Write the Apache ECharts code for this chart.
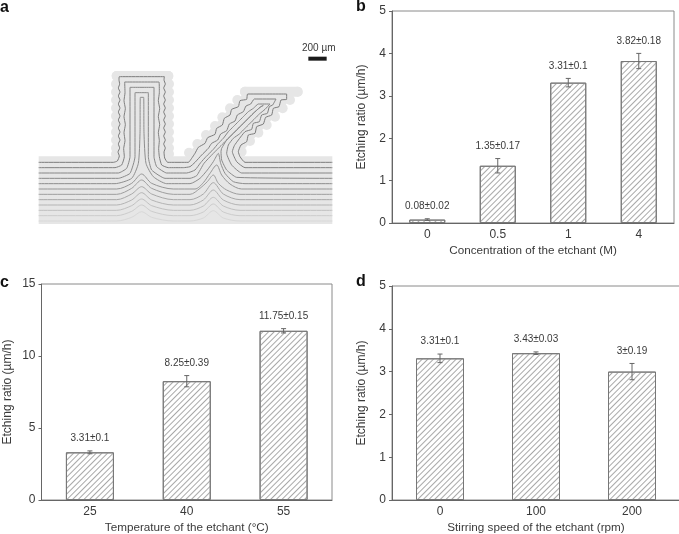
<!DOCTYPE html>
<html><head><meta charset="utf-8">
<style>html,body{margin:0;padding:0;background:#fff}#c{width:679px;height:534px}</style>
<script src="https://cdn.jsdelivr.net/npm/echarts@6/dist/echarts.min.js"></script>
</head><body><div id="c"></div>
<script>
// ---- bar panels ----
const catsB = ['0','0.5','1','4'];
const valsB = [0.08,1.35,3.31,3.82];
const errsB = [0.02,0.17,0.1,0.18];
const textB = ['0.08±0.02','1.35±0.17','3.31±0.1','3.82±0.18'];
const catsC = ['25','40','55'];
const valsC = [3.31,8.25,11.75];
const errsC = [0.1,0.39,0.15];
const textC = ['3.31±0.1','8.25±0.39','11.75±0.15'];
const catsD = ['0','100','200'];
const valsD = [3.31,3.43,3];
const errsD = [0.1,0.03,0.19];
const textD = ['3.31±0.1','3.43±0.03','3±0.19'];

// ---- schematic (panel a) in schematic units ----
const bandOutline = [[116,469],[997,469],[997,672],[116,672]];
const fingerOutline = [[350,228],[505,228],[505,475],[350,475]];
const slantOutline = [[565,460],[735,275],[893,275],[725,455],[725,475],[565,475]];
const scallops = [[350,228],[348,252],[348,276],[348,300],[348,324],[348,348],[348,372],[348,396],[348,420],[348,444],[348,462],
 [505,228],[507,252],[507,276],[507,300],[507,324],[507,348],[507,372],[507,396],[507,420],[507,444],[507,462],
 [567,458],[592,432],[618,405],[645,378],[667,352],[690,325],[712,300],[735,275],[893,275],[870,300],[848,325],[825,350],[800,375],[775,398],[750,423],[725,455]];
const line0 = [[116,487],[340,487],[352,483],[358,468],[354,456],[359,444],[355,432],[360,420],[355,408],[360,396],[355,384],[360,372],[355,360],[360,348],[355,336],[360,324],[355,312],[360,300],[355,288],[360,276],[355,264],[359,252],[357,240],[358,230],[493,230],[492,240],[496,252],[491,264],[496,276],[491,288],[496,300],[491,312],[496,324],[491,336],[496,348],[491,360],[496,372],[491,384],[496,396],[491,408],[496,420],[491,432],[496,444],[492,456],[494,474],[503,487],[565,487],[575,475],[585,460],[595,442],[615,430],[623,413],[645,403],[650,385],[667,375],[673,355],[690,345],[695,328],[715,320],[720,302],[740,298],[743,282],[860,282],[860,298],[843,300],[837,320],[820,325],[815,345],[797,352],[790,372],[770,380],[765,400],[745,405],[740,425],[723,435],[715,455],[720,470],[735,487],[997,487]];
const line1 = [[116,503],[345,503],[365,495],[373,470],[371,446],[375,422],[372,398],[376,374],[372,350],[376,326],[372,302],[375,278],[374,246],[477,246],[478,278],[475,302],[479,326],[475,350],[479,374],[475,398],[478,422],[476,446],[478,470],[485,495],[505,503],[550,503],[570,500],[585,487],[605,465],[625,445],[635,430],[653,420],[662,402],[680,392],[688,372],[705,363],[712,345],[730,335],[738,318],[752,312],[763,297],[828,297],[818,315],[808,320],[802,340],[785,345],[778,365],[760,370],[755,388],[735,395],[715,420],[703,437],[697,455],[710,485],[735,503],[997,503]];
const line2 = [[116,519],[355,519],[380,505],[390,470],[390,262],[462,262],[462,470],[470,500],[500,519],[560,519],[585,510],[602,488],[618,470],[640,448],[655,430],[670,415],[685,395],[700,380],[715,365],[730,350],[745,335],[760,325],[775,312],[810,312],[795,328],[778,342],[765,355],[748,372],[735,385],[718,402],[700,415],[685,435],[680,460],[695,495],[725,519],[997,519]];
const line3 = [[116,535],[355,535],[390,520],[405,470],[405,278],[445,278],[445,470],[455,510],[495,535],[570,535],[590,527],[612,490],[640,460],[663,437],[680,420],[700,400],[720,380],[740,360],[760,340],[780,322],[790,316],[780,322],[760,340],[740,360],[720,380],[700,400],[680,420],[665,445],[663,455],[665,480],[680,510],[710,532],[997,535]];
const line4 = [[116,551],[345,551],[395,535],[415,490],[420,400],[421,292],[431,292],[432,400],[438,490],[460,530],[500,551],[570,551],[600,535],[622,510],[640,485],[655,460],[662,490],[675,520],[700,545],[735,551],[997,551]];
const line5 = [[116,567],[350,567],[395,550],[425,522],[455,550],[520,567],[585,567],[610,548],[630,520],[650,495],[665,525],[690,552],[725,567],[997,567]];
const line6 = [[116,583],[350,583],[395,565],[425,540],[455,565],[520,583],[570,583],[600,565],[622,545],[640,525],[655,550],[680,570],[720,583],[997,583]];
const line7 = [[116,599],[350,599],[395,582],[425,560],[455,582],[520,599],[570,599],[610,582],[640,548],[670,582],[720,599],[997,599]];
const line8 = [[116,615],[350,615],[395,600],[425,578],[455,600],[520,615],[570,615],[610,600],[640,570],[670,600],[720,615],[997,615]];
const line9 = [[116,631],[350,631],[395,617],[425,597],[455,617],[520,631],[570,631],[610,618],[640,592],[670,618],[720,631],[997,631]];
const line10 = [[116,647],[350,647],[395,634],[425,615],[455,634],[520,647],[570,647],[610,636],[640,612],[670,636],[720,647],[997,647]];
const line11 = [[116,663],[350,663],[395,652],[425,635],[455,652],[520,663],[570,663],[610,654],[640,632],[670,654],[720,663],[997,663]];
const schematicLines = [line0,line1,line2,line3,line4,line5,line6,line7,line8,line9,line10,line11];
const lineGreys = ['#7c7c7c','#808080','#868686','#8a8a8a','#8e8e8e','#969696','#9e9e9e','#a8a8a8','#b4b4b4','#c0c0c0','#cccccc','#d8d8d8'];
const lineSmooth = [0.15,0.15,0.15,0.15,0.2,0.3,0.3,0.3,0.3,0.3,0.3,0.3];
const scaleBar = [[925,170],[980,170],[980,182],[925,182]];

const FONT = '"Liberation Sans", Arial, sans-serif';
const chart = echarts.init(document.getElementById('c'), null, {renderer:'canvas'});

const panels = [
 {cats:catsB, vals:valsB, errs:errsB, text:textB, max:5, step:1, name:'Concentration of the etchant (M)', box:{left:392,top:11,width:282,height:212}, bw:36, xGap:22, yGap:24},
 {cats:catsC, vals:valsC, errs:errsC, text:textC, max:15, step:5, name:'Temperature of the etchant (°C)', box:{left:41.5,top:284,width:290.5,height:216}, bw:48, xGap:22, yGap:28},
 {cats:catsD, vals:valsD, errs:errsD, text:textD, max:5, step:1, name:'Stirring speed of the etchant (rpm)', box:{left:392,top:286,width:288,height:214}, bw:48, xGap:21.5, yGap:24}
];
const grid = [{left:0,top:0,width:679,height:534,outerBoundsMode:'none'}], xAxis = [{type:'value',gridIndex:0,min:0,max:2037,show:false}],
  yAxis = [{type:'value',gridIndex:0,min:0,max:1602,inverse:true,show:false}], series = [];

function poly(data, color, z){
  series.push({type:'custom',xAxisIndex:0,yAxisIndex:0,z:z,silent:true,data:[0],clip:false,
    renderItem:(p,api)=>({type:'polygon',shape:{points:data.map(d=>api.coord(d))},style:{fill:color}})});
}
poly(bandOutline,'#e6e6e6',1); poly(fingerOutline,'#e6e6e6',1); poly(slantOutline,'#e6e6e6',1); poly(scaleBar,'#1a1a1a',3);
series.push({type:'line',xAxisIndex:0,yAxisIndex:0,z:1,silent:true,symbol:'none',data:[[350,228],[505,228]],lineStyle:{width:10,color:'#e6e6e6',cap:'round'}});
series.push({type:'line',xAxisIndex:0,yAxisIndex:0,z:1,silent:true,symbol:'none',data:[[735,275],[893,275]],lineStyle:{width:10,color:'#e6e6e6',cap:'round'}});
series.push({type:'scatter',xAxisIndex:0,yAxisIndex:0,z:1,silent:true,symbolSize:10,data:scallops,itemStyle:{color:'#e6e6e6',opacity:1}});
schematicLines.forEach((l,i)=>series.push({type:'line',xAxisIndex:0,yAxisIndex:0,z:2,silent:true,symbol:'none',smooth:lineSmooth[i],data:l,lineStyle:{width:1,color:lineGreys[i]}}));

panels.forEach((p,k)=>{
  const g=k+1;
  grid.push(Object.assign({show:true,borderColor:'#8a8a8a',borderWidth:1,backgroundColor:'transparent',outerBoundsMode:'none'},p.box));
  xAxis.push({type:'category',gridIndex:g,data:p.cats,name:p.name,nameLocation:'middle',nameGap:p.xGap,
    nameTextStyle:{fontFamily:FONT,fontSize:11.7,color:'#3a3a3a'},axisTick:{show:false},
    axisLine:{lineStyle:{color:'#666',width:1}},axisLabel:{fontFamily:FONT,fontSize:12,color:'#3a3a3a',margin:6},splitLine:{show:false}});
  yAxis.push({type:'value',gridIndex:g,min:0,max:p.max,interval:p.step,name:'Etching ratio (µm/h)',nameLocation:'middle',nameGap:p.yGap,
    nameTextStyle:{fontFamily:FONT,fontSize:12,color:'#3a3a3a'},axisTick:{show:true,length:3,lineStyle:{color:'#666'}},
    axisLine:{show:true,lineStyle:{color:'#666',width:1}},axisLabel:{fontFamily:FONT,fontSize:12,color:'#3a3a3a',margin:6},splitLine:{show:false}});
  series.push({type:'bar',xAxisIndex:g,yAxisIndex:g,data:p.vals,barWidth:p.bw,silent:true,z:3,
    itemStyle:{color:'#fff',borderColor:'#777',borderWidth:1,
      decal:{symbol:'rect',symbolSize:1,dashArrayX:[[1,0]],dashArrayY:[1,2.6],rotation:-Math.PI/4,color:'#a8a8a8'}}});
  series.push({type:'custom',xAxisIndex:g,yAxisIndex:g,z:4,silent:true,clip:false,
    data:p.vals.map((v,i)=>[i,v,p.errs[i]]),
    renderItem:(params,api)=>{
      const i=api.value(0),v=api.value(1),e=api.value(2);
      const t=api.coord([i,v+e]),b=api.coord([i,v-e]),c=2.5;
      const ln=(x1,y1,x2,y2)=>({type:'line',shape:{x1,y1,x2,y2},style:{stroke:'#666',lineWidth:1}});
      return {type:'group',children:[ln(t[0],t[1],b[0],b[1]),ln(t[0]-c,t[1],t[0]+c,t[1]),ln(b[0]-c,b[1],b[0]+c,b[1]),
        {type:'text',style:{text:p.text[i],x:t[0],y:t[1]-12.5,align:'center',verticalAlign:'middle',font:'10px '+FONT,fill:'#3a3a3a'}}]};
    }});
});

chart.setOption({animation:false,backgroundColor:'#fff',grid,xAxis,yAxis,series,
 graphic:[
  {type:'text',left:0,top:0,style:{text:'a',font:'bold 16px '+FONT,fill:'#111'}},
  {type:'text',left:356,top:-1,style:{text:'b',font:'bold 16px '+FONT,fill:'#111'}},
  {type:'text',left:0,top:275,style:{text:'c',font:'bold 16px '+FONT,fill:'#111'}},
  {type:'text',left:356,top:274,style:{text:'d',font:'bold 16px '+FONT,fill:'#111'}},
  {type:'text',left:302,top:43,style:{text:'200 µm',font:'10px '+FONT,fill:'#3a3a3a'}}
 ]});
</script></body></html>
